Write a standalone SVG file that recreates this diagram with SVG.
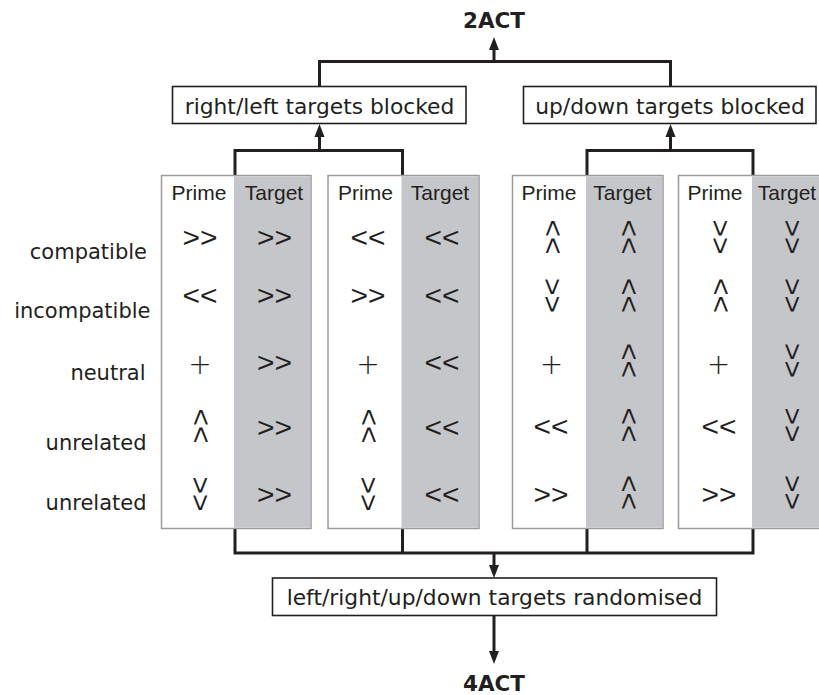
<svg xmlns="http://www.w3.org/2000/svg" width="819" height="695" viewBox="0 0 819 695">
<style>
.bg{fill:#ffffff}
.panel{fill:#ffffff;stroke:#9b9b9b;stroke-width:1.5}
.tcol{fill:#c5c6c9}
.box{fill:#ffffff;stroke:#231f20;stroke-width:1.6}
.conn{fill:none;stroke:#231f20;stroke-width:3}
.boxtxt{font-family:"DejaVu Sans",Verdana,sans-serif;font-size:21.8px;fill:#231f20;text-anchor:middle}
.title{font-family:"DejaVu Sans",Verdana,sans-serif;font-size:21.5px;font-weight:bold;fill:#231f20;text-anchor:middle}
.lbl{font-family:"DejaVu Sans",Verdana,sans-serif;font-size:21px;fill:#231f20;text-anchor:end}
.hdr{font-family:"Liberation Sans",Arial,sans-serif;font-size:21px;fill:#231f20;text-anchor:middle}
.sym{font-family:"Liberation Sans",Arial,sans-serif;font-size:28px;fill:#231f20;text-anchor:middle}
.plus{font-family:"DejaVu Sans",sans-serif;font-weight:200;font-size:28px;fill:#231f20;text-anchor:middle}
</style>
<rect class="bg" x="0" y="0" width="819" height="695"/>

<g id="connectors">
<path class="conn" d="M319.5,87 V61.5 H670.5 V87"/>
<path class="conn" d="M494,61.5 V50" />
<path d="M494,37 L489,50 L499,50 Z" fill="#231f20"/>
<path class="conn" d="M235,175 V150.5 H402.5 V175"/>
<path class="conn" d="M319.5,150.5 V136"/>
<path d="M319.5,124 L314.5,137 L324.5,137 Z" fill="#231f20"/>
<path class="conn" d="M587,175 V150.5 H753 V175"/>
<path class="conn" d="M670.5,150.5 V136"/>
<path d="M670.5,124 L665.5,137 L675.5,137 Z" fill="#231f20"/>
<path class="conn" d="M235,528.5 V553 H753 V528.5 M402.5,528.5 V553 M587,528.5 V553"/>
<path class="conn" d="M494,553 V566"/>
<path d="M494,578 L489,565 L499,565 Z" fill="#231f20"/>
<path class="conn" d="M494,615.5 V652"/>
<path d="M494,664 L489,651 L499,651 Z" fill="#231f20"/>
</g>

<g id="node-2act"><text class="title" x="494" y="28">2ACT</text></g>

<g id="node-rl-blocked">
<rect class="box" x="172.5" y="86.5" width="293.5" height="37"/>
<text class="boxtxt" x="319.5" y="113.5">right/left targets blocked</text>
</g>
<g id="node-ud-blocked">
<rect class="box" x="523.5" y="86.5" width="292.5" height="37"/>
<text class="boxtxt" x="670" y="113.5">up/down targets blocked</text>
</g>

<g id="row-labels">
<text class="lbl" x="147" y="259">compatible</text>
<text class="lbl" x="150.5" y="317.5">incompatible</text>
<text class="lbl" x="145.5" y="380">neutral</text>
<text class="lbl" x="146.5" y="450">unrelated</text>
<text class="lbl" x="146.5" y="510">unrelated</text>
</g>

<g id="panel-1">
<rect class="panel" x="161.5" y="175.5" width="149.5" height="353"/>
<rect class="tcol" x="234" y="176.25" width="76.25" height="351.5"/>
<text class="hdr" x="199" y="199.5">Prime</text>
<text class="hdr" x="274" y="199.5">Target</text>
<text class="sym" x="200" y="246.5" textLength="35" lengthAdjust="spacingAndGlyphs">&gt;&gt;</text>
<text class="sym" x="200" y="304.5" textLength="35" lengthAdjust="spacingAndGlyphs">&lt;&lt;</text>
<text class="plus" x="200" y="374">+</text>
<text class="sym" transform="translate(200,426) rotate(-90)" x="0" y="9.5" textLength="35" lengthAdjust="spacingAndGlyphs">&gt;&gt;</text>
<text class="sym" transform="translate(200,494) rotate(90)" x="0" y="9.5" textLength="35" lengthAdjust="spacingAndGlyphs">&gt;&gt;</text>
<text class="sym" x="274.5" y="246.5" textLength="35" lengthAdjust="spacingAndGlyphs">&gt;&gt;</text>
<text class="sym" x="274.5" y="304.5" textLength="35" lengthAdjust="spacingAndGlyphs">&gt;&gt;</text>
<text class="sym" x="274.5" y="371.5" textLength="35" lengthAdjust="spacingAndGlyphs">&gt;&gt;</text>
<text class="sym" x="274.5" y="436.5" textLength="35" lengthAdjust="spacingAndGlyphs">&gt;&gt;</text>
<text class="sym" x="274.5" y="503.5" textLength="35" lengthAdjust="spacingAndGlyphs">&gt;&gt;</text>
</g>

<g id="panel-2">
<rect class="panel" x="328" y="175.5" width="151" height="353"/>
<rect class="tcol" x="401.5" y="176.25" width="76.75" height="351.5"/>
<text class="hdr" x="365.5" y="199.5">Prime</text>
<text class="hdr" x="440" y="199.5">Target</text>
<text class="sym" x="368" y="246.5" textLength="35" lengthAdjust="spacingAndGlyphs">&lt;&lt;</text>
<text class="sym" x="368" y="304.5" textLength="35" lengthAdjust="spacingAndGlyphs">&gt;&gt;</text>
<text class="plus" x="368" y="374">+</text>
<text class="sym" transform="translate(368.5,426) rotate(-90)" x="0" y="9.5" textLength="35" lengthAdjust="spacingAndGlyphs">&gt;&gt;</text>
<text class="sym" transform="translate(368.5,494) rotate(90)" x="0" y="9.5" textLength="35" lengthAdjust="spacingAndGlyphs">&gt;&gt;</text>
<text class="sym" x="442" y="246.5" textLength="35" lengthAdjust="spacingAndGlyphs">&lt;&lt;</text>
<text class="sym" x="442" y="304.5" textLength="35" lengthAdjust="spacingAndGlyphs">&lt;&lt;</text>
<text class="sym" x="442" y="371.5" textLength="35" lengthAdjust="spacingAndGlyphs">&lt;&lt;</text>
<text class="sym" x="442" y="436.5" textLength="35" lengthAdjust="spacingAndGlyphs">&lt;&lt;</text>
<text class="sym" x="442" y="503.5" textLength="35" lengthAdjust="spacingAndGlyphs">&lt;&lt;</text>
</g>

<g id="panel-3">
<rect class="panel" x="512.5" y="175.5" width="150.5" height="353"/>
<rect class="tcol" x="586" y="176.25" width="76.25" height="351.5"/>
<text class="hdr" x="549" y="199.5">Prime</text>
<text class="hdr" x="622.5" y="199.5">Target</text>
<text class="sym" transform="translate(552,237) rotate(-90)" x="0" y="9.5" textLength="35" lengthAdjust="spacingAndGlyphs">&gt;&gt;</text>
<text class="sym" transform="translate(552,295.5) rotate(90)" x="0" y="9.5" textLength="35" lengthAdjust="spacingAndGlyphs">&gt;&gt;</text>
<text class="plus" x="551.5" y="374">+</text>
<text class="sym" x="551" y="435.5" textLength="35" lengthAdjust="spacingAndGlyphs">&lt;&lt;</text>
<text class="sym" x="551" y="503.5" textLength="35" lengthAdjust="spacingAndGlyphs">&gt;&gt;</text>
<text class="sym" transform="translate(628,237) rotate(-90)" x="0" y="9.5" textLength="35" lengthAdjust="spacingAndGlyphs">&gt;&gt;</text>
<text class="sym" transform="translate(628,295.5) rotate(-90)" x="0" y="9.5" textLength="35" lengthAdjust="spacingAndGlyphs">&gt;&gt;</text>
<text class="sym" transform="translate(628,360.5) rotate(-90)" x="0" y="9.5" textLength="35" lengthAdjust="spacingAndGlyphs">&gt;&gt;</text>
<text class="sym" transform="translate(628,425) rotate(-90)" x="0" y="9.5" textLength="35" lengthAdjust="spacingAndGlyphs">&gt;&gt;</text>
<text class="sym" transform="translate(628,492.5) rotate(-90)" x="0" y="9.5" textLength="35" lengthAdjust="spacingAndGlyphs">&gt;&gt;</text>
</g>

<g id="panel-4">
<rect class="panel" x="678.5" y="175.5" width="152" height="353"/>
<rect class="tcol" x="752" y="176.25" width="78" height="351.5"/>
<text class="hdr" x="715" y="199.5">Prime</text>
<text class="hdr" x="787" y="199.5">Target</text>
<text class="sym" transform="translate(720,237) rotate(90)" x="0" y="9.5" textLength="35" lengthAdjust="spacingAndGlyphs">&gt;&gt;</text>
<text class="sym" transform="translate(720,295.5) rotate(-90)" x="0" y="9.5" textLength="35" lengthAdjust="spacingAndGlyphs">&gt;&gt;</text>
<text class="plus" x="718.5" y="374">+</text>
<text class="sym" x="719" y="435.5" textLength="35" lengthAdjust="spacingAndGlyphs">&lt;&lt;</text>
<text class="sym" x="719" y="503.5" textLength="35" lengthAdjust="spacingAndGlyphs">&gt;&gt;</text>
<text class="sym" transform="translate(792,237) rotate(90)" x="0" y="9.5" textLength="35" lengthAdjust="spacingAndGlyphs">&gt;&gt;</text>
<text class="sym" transform="translate(792,295.5) rotate(90)" x="0" y="9.5" textLength="35" lengthAdjust="spacingAndGlyphs">&gt;&gt;</text>
<text class="sym" transform="translate(792,360.5) rotate(90)" x="0" y="9.5" textLength="35" lengthAdjust="spacingAndGlyphs">&gt;&gt;</text>
<text class="sym" transform="translate(792,425) rotate(90)" x="0" y="9.5" textLength="35" lengthAdjust="spacingAndGlyphs">&gt;&gt;</text>
<text class="sym" transform="translate(792,492.5) rotate(90)" x="0" y="9.5" textLength="35" lengthAdjust="spacingAndGlyphs">&gt;&gt;</text>
</g>

<g id="node-randomised">
<rect class="box" x="272.5" y="578" width="444" height="37.5"/>
<text class="boxtxt" x="494.5" y="605">left/right/up/down targets randomised</text>
</g>

<g id="node-4act"><text class="title" x="494" y="691">4ACT</text></g>
</svg>
